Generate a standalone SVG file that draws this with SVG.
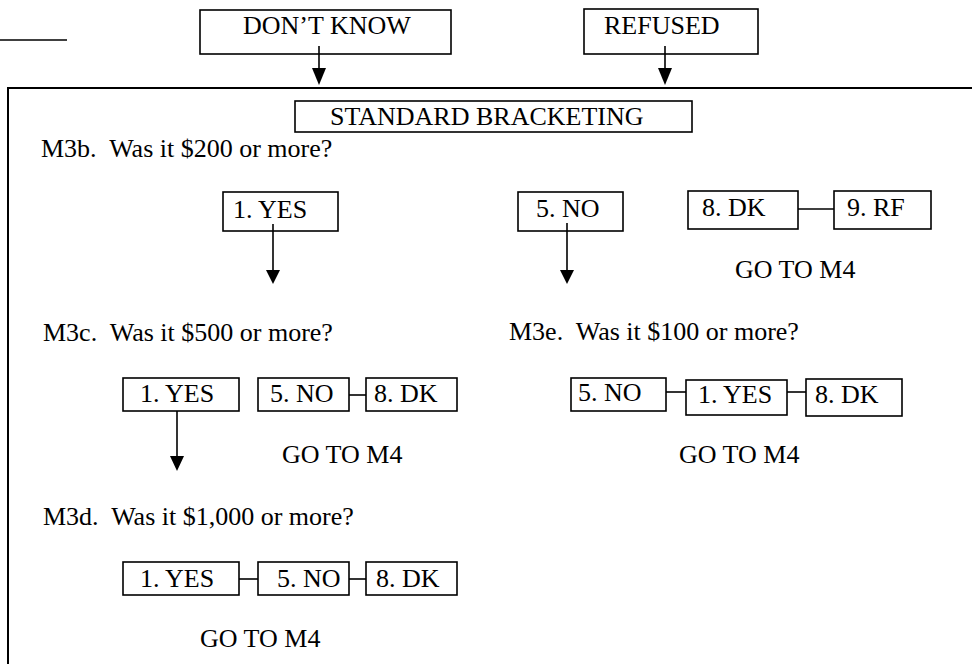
<svg xmlns="http://www.w3.org/2000/svg" width="972" height="664" viewBox="0 0 972 664">
<defs>
<style>
.box{fill:none;stroke:#000;stroke-width:1.6}
.frame{fill:none;stroke:#000;stroke-width:2}
.ln{stroke:#000;stroke-width:1.6;fill:none}
text{font-family:"Liberation Serif","Times New Roman",serif;font-size:26px;fill:#000;white-space:pre}
</style>
</defs>
<rect width="972" height="664" fill="#fff"/>
<line class="ln" x1="0" y1="40" x2="67" y2="40"/>
<rect class="frame" x="8" y="88" width="980" height="600"/>

<g id="connectors">
<line class="ln" x1="319" y1="46" x2="319" y2="70"/>
<path d="M312,68 L326,68 L319,85 Z"/>
<line class="ln" x1="665" y1="46" x2="665" y2="70"/>
<path d="M658,68 L672,68 L665,85 Z"/>
<line class="ln" x1="273" y1="224" x2="273" y2="272"/>
<path d="M266,270 L280,270 L273,284 Z"/>
<line class="ln" x1="567" y1="223" x2="567" y2="272"/>
<path d="M560,270 L574,270 L567,284 Z"/>
<line class="ln" x1="798" y1="209" x2="834" y2="209"/>
<line class="ln" x1="177" y1="411" x2="177" y2="458"/>
<path d="M170,456 L184,456 L177,471 Z"/>
<line class="ln" x1="349" y1="395" x2="366" y2="395"/>
<line class="ln" x1="666" y1="392" x2="686" y2="392"/>
<line class="ln" x1="787" y1="392" x2="806" y2="392"/>
<line class="ln" x1="239" y1="579" x2="258" y2="579"/>
<line class="ln" x1="349" y1="579" x2="366" y2="579"/>
</g>

<g id="dontknow"><rect class="box" x="200" y="10" width="251" height="44"/><text x="243" y="34">DON’T KNOW</text></g>
<g id="refused"><rect class="box" x="584" y="9" width="174" height="45"/><text x="604" y="34">REFUSED</text></g>
<g id="standard"><rect class="box" x="295" y="101" width="397" height="31"/><text x="330" y="125">STANDARD BRACKETING</text></g>

<g id="m3b"><text x="41" y="157" xml:space="preserve">M3b.  Was it $200 or more?</text></g>
<g id="m3b-yes"><rect class="box" x="223" y="192" width="115" height="39"/><text x="233" y="218">1. YES</text></g>
<g id="m3b-no"><rect class="box" x="518" y="192" width="105" height="39"/><text x="536" y="217">5. NO</text></g>
<g id="m3b-dk"><rect class="box" x="688" y="191" width="110" height="38"/><text x="702" y="216">8. DK</text></g>
<g id="m3b-rf"><rect class="box" x="834" y="191" width="97" height="38"/><text x="847" y="216">9. RF</text></g>
<g id="m3b-goto"><text x="735" y="278">GO TO M4</text></g>

<g id="m3c"><text x="43" y="341" xml:space="preserve">M3c.  Was it $500 or more?</text></g>
<g id="m3c-yes"><rect class="box" x="123" y="378" width="116" height="33"/><text x="140" y="402">1. YES</text></g>
<g id="m3c-no"><rect class="box" x="258" y="378" width="91" height="33"/><text x="270" y="402">5. NO</text></g>
<g id="m3c-dk"><rect class="box" x="366" y="378" width="91" height="33"/><text x="374" y="402">8. DK</text></g>
<g id="m3c-goto"><text x="282" y="463">GO TO M4</text></g>

<g id="m3e"><text x="509" y="340" xml:space="preserve">M3e.  Was it $100 or more?</text></g>
<g id="m3e-no"><rect class="box" x="571" y="378" width="95" height="33"/><text x="578" y="401">5. NO</text></g>
<g id="m3e-yes"><rect class="box" x="686" y="380" width="101" height="35"/><text x="698" y="403">1. YES</text></g>
<g id="m3e-dk"><rect class="box" x="806" y="379" width="96" height="37"/><text x="815" y="403">8. DK</text></g>
<g id="m3e-goto"><text x="679" y="463">GO TO M4</text></g>

<g id="m3d"><text x="43" y="525" xml:space="preserve">M3d.  Was it $1,000 or more?</text></g>
<g id="m3d-yes"><rect class="box" x="123" y="562" width="116" height="33"/><text x="140" y="587">1. YES</text></g>
<g id="m3d-no"><rect class="box" x="258" y="562" width="91" height="33"/><text x="277" y="587">5. NO</text></g>
<g id="m3d-dk"><rect class="box" x="366" y="562" width="91" height="33"/><text x="376" y="587">8. DK</text></g>
<g id="m3d-goto"><text x="200" y="647">GO TO M4</text></g>
</svg>
